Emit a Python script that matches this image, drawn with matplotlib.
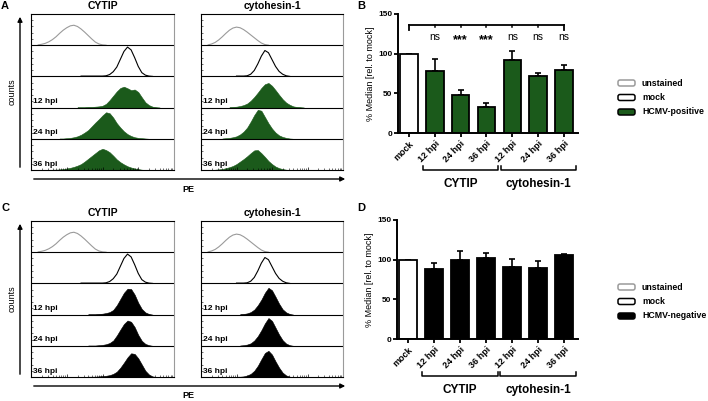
import numpy as np
import matplotlib
matplotlib.use('Agg')
import matplotlib.pyplot as plt
from matplotlib.patches import FancyArrowPatch, FancyBboxPatch
from matplotlib.transforms import IdentityTransform

plt.rcParams['font.family'] = ['Liberation Sans', 'DejaVu Sans']
plt.rcParams['font.weight'] = 'bold'

W, H = 708, 401

# ---------------- bar data (% median rel. to mock)
groups     = ['CYTIP', 'cytohesin-1']
bar_labels = ['mock', '12 hpi', '24 hpi', '36 hpi', '12 hpi', '24 hpi', '36 hpi']
b_median   = [100, 78, 47.5, 33, 92, 72, 79]
b_sem      = [0, 15, 6.5, 5, 11, 4, 7]
b_sig      = ['ns', '***', '***', 'ns', 'ns', 'ns']
d_median   = [100, 88, 100, 102, 90.5, 90, 106]
d_sem      = [0, 8, 10.5, 6, 10.5, 8, 1]

# ---------------- histogram data: (start PE, heights every 2.5 PE units, fraction of row)
step = 2.5
row_labels = ['', '', '12 hpi', '24 hpi', '36 hpi']
unst_cytip = (5.0, [0.01, 0.03, 0.06, 0.11, 0.18, 0.27, 0.38, 0.48, 0.56, 0.62, 0.64,
                    0.6, 0.52, 0.42, 0.31, 0.2, 0.1, 0.04, 0.01, 0])
mock_cytip = (35.0, [0.01, 0.01, 0.01, 0.01, 0.01, 0.01, 0.01, 0.02, 0.06, 0.15, 0.3,
                     0.55, 0.8, 0.94, 0.85, 0.6, 0.32, 0.12, 0.04, 0.01, 0])
unst_cyto = (5.0, [0.01, 0.04, 0.09, 0.17, 0.27, 0.38, 0.48, 0.55, 0.58, 0.56, 0.5,
                   0.42, 0.33, 0.24, 0.15, 0.07, 0.02, 0])
mock_cyto = (25.0, [0.01, 0.01, 0.01, 0.02, 0.07, 0.19, 0.4, 0.65, 0.83, 0.76, 0.54,
                    0.32, 0.16, 0.07, 0.02, 0])
pos12_cytip = (32.5, [0.01, 0.01, 0.01, 0.02, 0.02, 0.03, 0.04, 0.06, 0.12, 0.24, 0.38,
                      0.52, 0.63, 0.67, 0.62, 0.56, 0.58, 0.5, 0.33, 0.17, 0.08, 0.03, 0.01, 0])
pos24_cytip = (20.0, [0.01, 0.01, 0.02, 0.03, 0.05, 0.08, 0.13, 0.2, 0.28, 0.4, 0.52,
                      0.63, 0.75, 0.85, 0.82, 0.68, 0.5, 0.36, 0.24, 0.15, 0.09, 0.05,
                      0.03, 0.02, 0.01, 0])
pos36_cytip = (15.0, [0.01, 0.01, 0.02, 0.03, 0.05, 0.07, 0.1, 0.14, 0.19, 0.27, 0.36,
                      0.45, 0.54, 0.63, 0.68, 0.64, 0.57, 0.46, 0.34, 0.25, 0.18, 0.12,
                      0.08, 0.05, 0.03, 0.01, 0])
pos12_cyto = (20.0, [0.01, 0.02, 0.03, 0.05, 0.08, 0.13, 0.22, 0.34, 0.48, 0.63, 0.75,
                     0.79, 0.7, 0.56, 0.41, 0.27, 0.16, 0.09, 0.04, 0.02, 0.01, 0])
pos24_cyto = (15.0, [0.01, 0.02, 0.03, 0.05, 0.08, 0.14, 0.23, 0.36, 0.55, 0.76, 0.93,
                     0.9, 0.7, 0.5, 0.33, 0.2, 0.11, 0.06, 0.03, 0.01, 0])
pos36_cyto = (10.0, [0.01, 0.02, 0.03, 0.06, 0.09, 0.13, 0.19, 0.27, 0.35, 0.44, 0.54,
                     0.63, 0.64, 0.54, 0.42, 0.29, 0.19, 0.11, 0.06, 0.03, 0.01, 0])
neg12_cytip = (40.0, [0.01, 0.01, 0.01, 0.02, 0.03, 0.05, 0.08, 0.15, 0.3, 0.5, 0.7,
                      0.83, 0.82, 0.64, 0.38, 0.18, 0.07, 0.02, 0])
neg24_cytip = (40.0, [0.01, 0.01, 0.01, 0.02, 0.03, 0.05, 0.09, 0.17, 0.33, 0.52, 0.7,
                      0.81, 0.77, 0.6, 0.35, 0.16, 0.06, 0.02, 0])
neg36_cytip = (40.0, [0.01, 0.01, 0.01, 0.02, 0.03, 0.04, 0.06, 0.1, 0.17, 0.3, 0.46,
                      0.63, 0.76, 0.74, 0.6, 0.4, 0.2, 0.08, 0.02, 0])
neg12_cyto = (27.5, [0.01, 0.02, 0.04, 0.08, 0.16, 0.3, 0.48, 0.7, 0.86, 0.78, 0.57,
                     0.35, 0.17, 0.07, 0.02, 0])
neg24_cyto = (27.5, [0.01, 0.02, 0.04, 0.08, 0.17, 0.31, 0.5, 0.72, 0.89, 0.8, 0.58,
                     0.36, 0.18, 0.07, 0.02, 0])
neg36_cyto = (25.0, [0.01, 0.01, 0.02, 0.05, 0.1, 0.2, 0.36, 0.57, 0.77, 0.84, 0.72,
                     0.5, 0.3, 0.14, 0.05, 0.01, 0])

green = '#1b5a1b'
grey = '#9a9a9a'

fig = plt.figure(figsize=(W / 100, H / 100), dpi=100)


def rect(l, t, r, b):
    return [l / W, 1 - b / H, (r - l) / W, (b - t) / H]


def ftext(x, y, s, **kw):
    fig.text(x / W, 1 - y / H, s, **kw)


def hist_panel(box, curves, fill, title):
    ax = fig.add_axes(rect(*box))
    for r, (x0, h) in enumerate(curves):
        base = 4 - r
        xs = x0 + step * np.arange(len(h))
        ys = base + np.array(h)
        if r == 0:
            ax.plot(xs, ys, color=grey, lw=0.8)
        elif r == 1:
            ax.plot(xs, ys, color='black', lw=0.8)
        else:
            ax.fill_between(xs, base, ys, color=fill, lw=0.4)
            ax.text(1.5, base + 0.08, row_labels[r], fontsize=6, va='bottom', ha='left')
    for yy in range(1, 5):
        ax.axhline(yy, color='black', lw=0.8)
    ax.set_xlim(0, 100)
    ax.set_ylim(0, 5)
    major = [0, 25, 50, 75, 100]
    minor = [d * 25 + 25 * np.log10(k) for d in range(4) for k in range(2, 10)]
    ax.set_xticks(major)
    ax.set_xticks(minor, minor=True)
    ax.set_yticks([])
    ax.set_yticks([r + f for r in range(5) for f in (0.2, 0.4, 0.6, 0.8)], minor=True)
    ax.tick_params(axis='x', which='major', direction='in', length=2.5, width=0.5,
                   labelbottom=False)
    ax.tick_params(axis='x', which='minor', direction='in', length=1.5, width=0.4)
    ax.tick_params(axis='y', which='minor', direction='in', length=1.5, width=0.4,
                   labelleft=False)
    for s in ax.spines.values():
        s.set_linewidth(0.8)
    ax.spines['right'].set_color(grey)
    l, t, r, b = box
    ftext((l + r) / 2, t - 8, title, ha='center', va='center', fontsize=7.5)
    return ax


def bar_panel(box, vals, sem, color, sig=None):
    ax = fig.add_axes(rect(*box))
    x = np.arange(len(vals))
    colors = ['white'] + [color] * (len(vals) - 1)
    ax.errorbar(x, vals, yerr=[np.zeros(len(vals)), sem], fmt='none', ecolor='black',
                elinewidth=1.2, capsize=2.5, capthick=1.2, zorder=1)
    ax.bar(x, vals, width=0.68, color=colors, edgecolor='black', lw=1.3, zorder=2)
    ax.set_xlim(-0.42, 6.54)
    ax.set_ylim(0, 150)
    ax.set_yticks([0, 50, 100, 150])
    ax.set_xticks(x)
    ax.set_xticklabels(bar_labels, rotation=45, ha='right', rotation_mode='anchor',
                       fontsize=6.5)
    ax.tick_params(axis='y', labelsize=6, length=3, width=1.3, pad=1)
    ax.tick_params(axis='x', length=3, width=1.3, pad=1.5)
    ax.spines['right'].set_visible(False)
    ax.spines['top'].set_visible(False)
    ax.spines['left'].set_linewidth(1.4)
    ax.spines['bottom'].set_linewidth(1.4)
    ax.set_ylabel('% Median [rel. to mock]', fontsize=6.5, labelpad=2)
    tr = ax.get_xaxis_transform()
    for (a, b), name in zip([(0.55, 3.45), (3.55, 6.45)], groups):
        ax.plot([a, a, b, b], [-0.28, -0.315, -0.315, -0.28], transform=tr,
                clip_on=False, color='black', lw=1.1)
        ax.text((a + b) / 2, -0.43, name, transform=tr, ha='center', va='center',
                fontsize=8.5)
    if sig is not None:
        ax.plot([0, 6], [136.5, 136.5], color='black', lw=1.3, clip_on=False)
        for i in (0, 6):
            ax.plot([i, i], [136.5, 130], color='black', lw=1.3, clip_on=False)
        for i in range(1, 6):
            ax.plot([i, i], [136.5, 133], color='black', lw=1.1, clip_on=False)
        for i, s in enumerate(sig):
            if s == 'ns':
                ax.text(i + 1, 121, s, ha='center', va='center', fontsize=7.5,
                        fontweight='normal')
            else:
                ax.text(i + 1, 117, s, ha='center', va='center', fontsize=9)
    return ax


def legend(items, top):
    for k, (label, face, edge) in enumerate(items):
        cy = top + 14.5 * k
        p = FancyBboxPatch((618, H - cy - 3), 17, 6,
                           boxstyle='round,pad=0,rounding_size=2',
                           transform=IdentityTransform(), facecolor=face,
                           edgecolor=edge, lw=1.1)
        fig.add_artist(p)
        ftext(642, cy, label, ha='left', va='center', fontsize=6.3)


def arrows(y_top, y_bot, y_pe, y_lab):
    fig.add_artist(FancyArrowPatch((20, H - y_bot), (20, H - y_top), arrowstyle='-|>',
                                   mutation_scale=7, lw=1, color='black',
                                   transform=IdentityTransform()))
    fig.add_artist(FancyArrowPatch((31, H - y_pe), (348, H - y_pe), arrowstyle='-|>',
                                   mutation_scale=7, lw=1, color='black',
                                   transform=IdentityTransform()))
    ftext(12, (y_top + y_bot) / 2, 'counts', rotation=90, ha='center', va='center',
          fontsize=6.5, fontweight='normal')
    ftext(188, y_lab, 'PE', ha='center', va='center', fontsize=6.5)


# ---------------- panel A / B
hist_panel((31, 14, 174, 170),
           [unst_cytip, mock_cytip, pos12_cytip, pos24_cytip, pos36_cytip], green, 'CYTIP')
hist_panel((201, 14, 343, 170),
           [unst_cyto, mock_cyto, pos12_cyto, pos24_cyto, pos36_cyto], green, 'cytohesin-1')
arrows(14, 170, 179, 190)
bar_panel((398, 14, 578, 133), b_median, b_sem, green, b_sig)
legend([('unstained', 'white', grey), ('mock', 'white', 'black'),
        ('HCMV-positive', green, 'black')], 83)

# ---------------- panel C / D
hist_panel((31, 221, 174, 377),
           [unst_cytip, mock_cytip, neg12_cytip, neg24_cytip, neg36_cytip], 'black', 'CYTIP')
hist_panel((201, 221, 343, 377),
           [unst_cyto, mock_cyto, neg12_cyto, neg24_cyto, neg36_cyto], 'black', 'cytohesin-1')
arrows(221, 377, 386, 395)
bar_panel((397, 220, 578, 339), d_median, d_sem, 'black')
legend([('unstained', 'white', grey), ('mock', 'white', 'black'),
        ('HCMV-negative', 'black', 'black')], 287)

for lab, x, y in [('A', 5, 6), ('B', 361, 6), ('C', 5, 208), ('D', 361, 208)]:
    ftext(x, y, lab, ha='center', va='center', fontsize=8)

plt.savefig('out.png', dpi=100)
